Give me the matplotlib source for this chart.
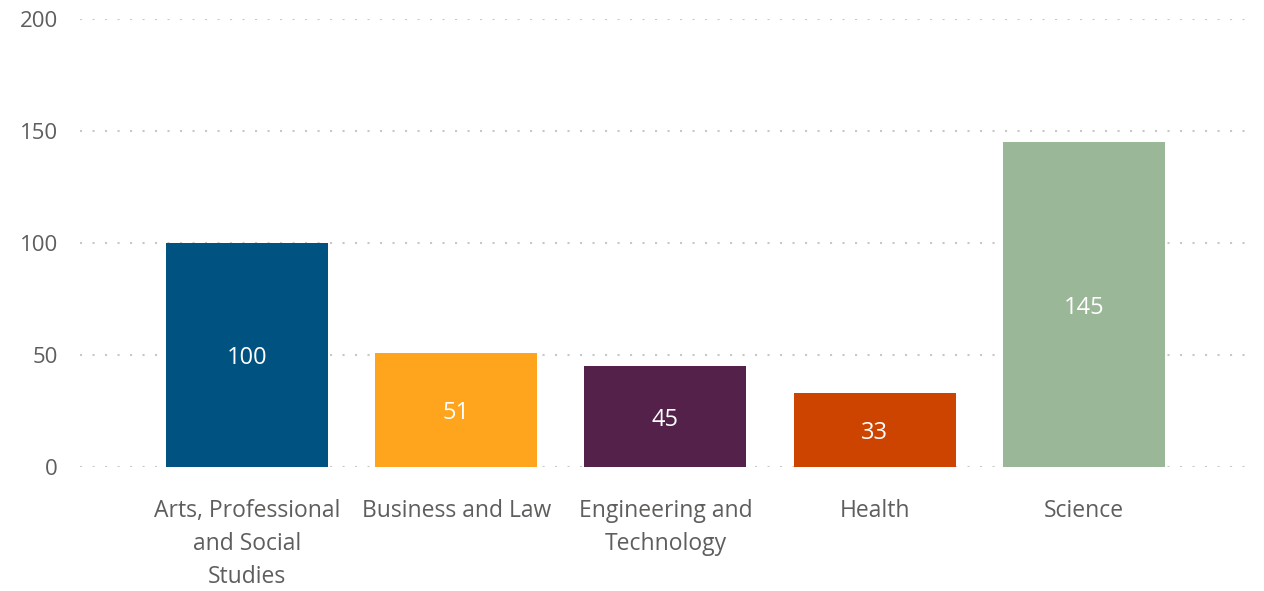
import matplotlib
matplotlib.use("Agg")
import matplotlib.pyplot as plt

# Data
categories = ["Arts, Professional\nand Social\nStudies", "Business and Law",
              "Engineering and\nTechnology", "Health", "Science"]
values = [100, 51, 45, 33, 145]
colors = ["#005280", "#FFA51D", "#54214A", "#CC4400", "#9AB898"]
y_ticks = [0, 50, 100, 150, 200]

plt.rcParams['font.family'] = ['Open Sans', 'DejaVu Sans']

fig = plt.figure(figsize=(12.64, 5.91), dpi=100)
ax = fig.add_axes([80 / 1264, 124 / 591, (1253 - 80) / 1264, (467 - 19) / 591])

x = range(len(categories))
bars = ax.bar(x, values, width=0.775, color=colors, zorder=3)

for b, v in zip(bars, values):
    ax.text(b.get_x() + b.get_width() / 2, v / 2 - 1.3, str(v), ha='center', va='center',
            color='white', fontsize=17, zorder=4)

ax.set_xlim(-0.8, 4.81)
ax.set_ylim(0, 200)
ax.set_yticks(y_ticks)
ax.set_xticks(list(x))
ax.set_xticklabels(categories, fontsize=16.5, color='#605E5C', linespacing=1.5, va='top')
ax.tick_params(axis='y', labelsize=16, colors='#605E5C', length=0, pad=16)
ax.tick_params(axis='x', length=0, pad=23)

ax.grid(axis='y', color='#C8C8C8', linewidth=1.5, linestyle=(0, (1, 5)), zorder=0)
for s in ax.spines.values():
    s.set_visible(False)

plt.savefig("out.png", dpi=100)
